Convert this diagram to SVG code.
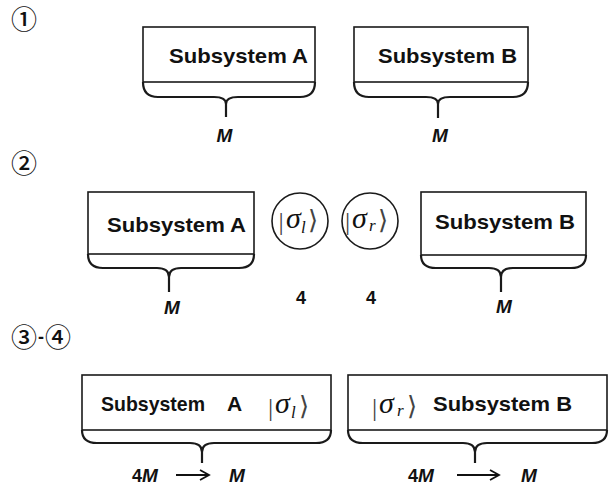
<svg xmlns="http://www.w3.org/2000/svg" width="611" height="486" viewBox="0 0 611 486">
<style>
.box{fill:#fff;stroke:#1a1a1a;stroke-width:1.6}
.br{fill:none;stroke:#1a1a1a;stroke-width:2.2;stroke-linejoin:round}
.lbl{font-family:"Liberation Sans",Arial,sans-serif;font-weight:bold;font-size:21px;fill:#111}
.m{font-family:"Liberation Sans",Arial,sans-serif;font-weight:bold;font-style:italic;font-size:19px;fill:#111}
.n{font-family:"Liberation Sans",Arial,sans-serif;font-weight:bold;font-size:18px;fill:#111}
.num{font-family:"Noto Sans CJK JP","DejaVu Sans",serif;font-size:26px;font-weight:500;fill:#111}
.sg{font-family:"Liberation Serif","Times New Roman",serif;font-style:italic;font-size:30px;fill:#111}
.sub{font-family:"Liberation Serif","Times New Roman",serif;font-style:italic;font-size:17px;fill:#111}
.bar{font-family:"Liberation Serif",serif;font-size:26px;fill:#444}
.ang{font-family:"DejaVu Serif","DejaVu Sans",serif;font-size:26px;fill:#444}
.circ{fill:#fff;stroke:#1a1a1a;stroke-width:1.6}
.ar{fill:none;stroke:#111;stroke-width:1.8}
</style>

<g id="step-labels">
<text class="num" x="11" y="29">①</text>
<text class="num" x="11" y="173">②</text>
<text class="num" x="11" y="347">③</text>
<text class="n" x="38" y="343" font-size="20">-</text>
<text class="num" x="45" y="347">④</text>
</g>

<g id="s1-subsystemA">
<rect class="box" x="143" y="27" width="172" height="55"/>
<path class="br" d="M143,82 Q143,97 158,97 L214,97 Q226,97 226,104 Q226,97 238,97 L300,97 Q315,97 315,82"/>
<path class="br" d="M226,104 V117"/>
<text class="lbl" x="169" y="63" textLength="139" lengthAdjust="spacingAndGlyphs">Subsystem A</text>
<text class="m" x="224.5" y="142" text-anchor="middle">M</text>
</g>

<g id="s1-subsystemB">
<rect class="box" x="354" y="27" width="174" height="55"/>
<path class="br" d="M354,82 Q354,97 369,97 L426,97 Q438,97 438,104 Q438,97 450,97 L513,97 Q528,97 528,82"/>
<path class="br" d="M438,104 V118"/>
<text class="lbl" x="378" y="63" textLength="139" lengthAdjust="spacingAndGlyphs">Subsystem B</text>
<text class="m" x="440" y="142" text-anchor="middle">M</text>
</g>

<g id="s2-subsystemA">
<rect class="box" x="88" y="192" width="166" height="62"/>
<path class="br" d="M88,254 Q88,268 103,268 L157,268 Q169,268 169,277 Q169,268 181,268 L239,268 Q254,268 254,254"/>
<path class="br" d="M169,277 V292"/>
<text class="lbl" x="107" y="232" textLength="139" lengthAdjust="spacingAndGlyphs">Subsystem A</text>
<text class="m" x="172" y="314" text-anchor="middle">M</text>
</g>

<g id="s2-sigma-l">
<circle class="circ" cx="300" cy="221" r="28"/>
<text class="bar" x="278.5" y="230">|</text>
<text class="sg" x="286" y="228">σ</text>
<text class="sub" x="301" y="233">l</text>
<text class="ang" x="308" y="229">⟩</text>
<text class="n" x="301" y="304" text-anchor="middle">4</text>
</g>

<g id="s2-sigma-r">
<circle class="circ" cx="370" cy="221" r="28"/>
<text class="bar" x="345" y="230">|</text>
<text class="sg" x="352" y="228">σ</text>
<text class="sub" x="369" y="231">r</text>
<text class="ang" x="378" y="229">⟩</text>
<text class="n" x="371" y="304" text-anchor="middle">4</text>
</g>

<g id="s2-subsystemB">
<rect class="box" x="421" y="192" width="165" height="63"/>
<path class="br" d="M421,255 Q421,268 436,268 L489,268 Q501,268 501,277 Q501,268 513,268 L571,268 Q586,268 586,255"/>
<path class="br" d="M501,277 V292"/>
<text class="lbl" x="435" y="229" textLength="140" lengthAdjust="spacingAndGlyphs">Subsystem B</text>
<text class="m" x="504" y="313" text-anchor="middle">M</text>
</g>

<g id="s3-subsystemA">
<rect class="box" x="82" y="375" width="249" height="55"/>
<path class="br" d="M82,430 Q82,443 97,443 L190,443 Q202,443 202,452 Q202,443 214,443 L316,443 Q331,443 331,430"/>
<path class="br" d="M202,452 V463"/>
<text class="lbl" x="101" y="411" textLength="104" lengthAdjust="spacingAndGlyphs">Subsystem</text>
<text class="lbl" x="227" y="411">A</text>
<text class="bar" x="268" y="416" font-size="24">|</text>
<text class="sg" x="275" y="413" font-size="27">σ</text>
<text class="sub" x="291" y="418" font-size="15">l</text>
<text class="ang" x="299" y="415" font-size="24">⟩</text>
</g>

<g id="s3-subsystemB">
<rect class="box" x="348" y="375" width="259" height="55"/>
<path class="br" d="M348,430 Q348,443 363,443 L463,443 Q475,443 475,452 Q475,443 487,443 L592,443 Q607,443 607,430"/>
<path class="br" d="M475,452 V463"/>
<text class="bar" x="372" y="416" font-size="24">|</text>
<text class="sg" x="379" y="413" font-size="27">σ</text>
<text class="sub" x="397" y="416" font-size="15">r</text>
<text class="ang" x="407" y="415" font-size="24">⟩</text>
<text class="lbl" x="433" y="411" textLength="139" lengthAdjust="spacingAndGlyphs">Subsystem B</text>
</g>

<g id="connectors">
<text class="n" x="132" y="482">4<tspan class="m" font-size="18">M</tspan></text>
<path class="ar" d="M176,475 H209 M200,470 L209,475 L200,480"/>
<text class="m" x="229" y="482" font-size="18">M</text>
<text class="n" x="408" y="482">4<tspan class="m" font-size="18">M</tspan></text>
<path class="ar" d="M457,475 H499 M490,470 L499,475 L490,480"/>
<text class="m" x="521" y="482" font-size="18">M</text>
</g>
</svg>
